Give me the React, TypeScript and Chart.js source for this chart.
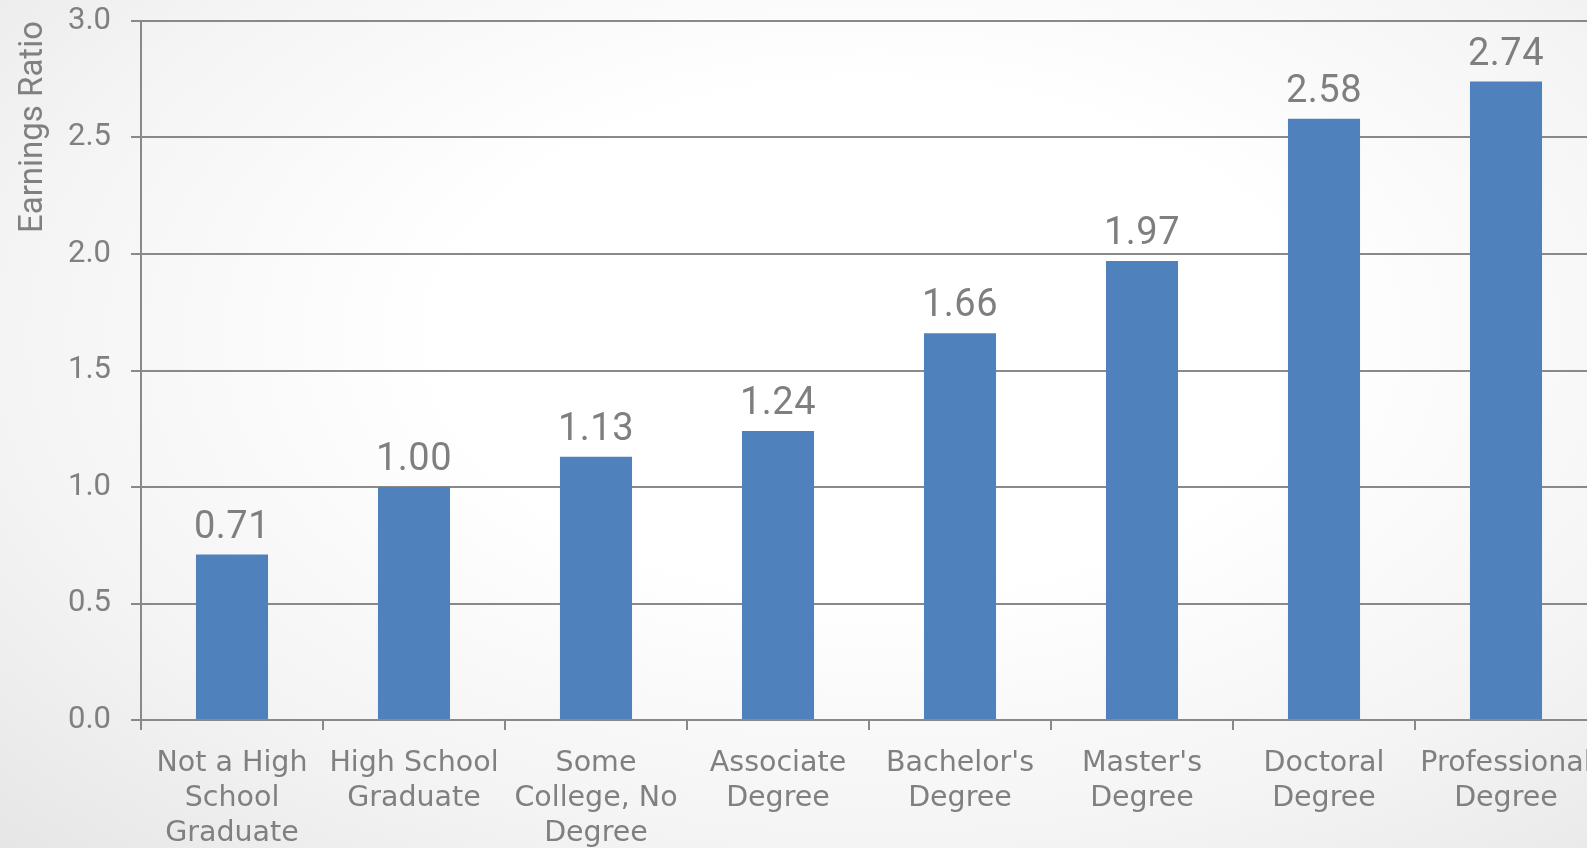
import React, { useEffect, useRef } from "react";
import { Chart, registerables } from "chart.js";

Chart.register(...registerables);

const categories: (string | string[])[] = [
  ["Not a High", "School", "Graduate"],
  ["High School", "Graduate"],
  ["Some", "College, No", "Degree"],
  ["Associate", "Degree"],
  ["Bachelor's", "Degree"],
  ["Master's", "Degree"],
  ["Doctoral", "Degree"],
  ["Professional", "Degree"],
];
const earningsRatio: number[] = [0.71, 1.0, 1.13, 1.24, 1.66, 1.97, 2.58, 2.74];
const yTicks: number[] = [0, 0.5, 1.0, 1.5, 2.0, 2.5, 3.0];
const yTitle = "Earnings Ratio";

const CANVAS_W = 1620;
const CANVAS_H = 848;
const GRAY = "#808080";
const LINE = "#898989";

const valueLabels = {
  id: "valueLabels",
  afterDatasetsDraw(chart: any) {
    const ctx = chart.ctx;
    const meta = chart.getDatasetMeta(0);
    ctx.save();
    ctx.font = "38px Roboto";
    try {
      (ctx as any).letterSpacing = "0.5px";
    } catch (e) {}
    ctx.fillStyle = "#7f7f7f";
    ctx.textAlign = "center";
    ctx.textBaseline = "alphabetic";
    meta.data.forEach((bar: any, i: number) => {
      const v = chart.data.datasets[0].data[i] as number;
      ctx.fillText(v.toFixed(2), bar.x, bar.y - 17);
    });
    ctx.restore();
  },
};

export default function App() {
  const ref = useRef<HTMLCanvasElement | null>(null);
  useEffect(() => {
    if (!ref.current) return;
    const chart = new Chart(ref.current, {
      type: "bar",
      data: {
        labels: categories,
        datasets: [
          {
            data: earningsRatio,
            backgroundColor: "#4F81BD",
            borderWidth: 0,
            barPercentage: 0.396,
            categoryPercentage: 1,
          },
        ],
      },
      options: {
        responsive: false,
        animation: false,
        devicePixelRatio: 1,
        layout: { padding: { top: 21, right: CANVAS_W - 1597, left: 0, bottom: 0 } },
        plugins: {
          legend: { display: false },
          tooltip: { enabled: false },
        },
        scales: {
          x: {
            grid: {
              display: true,
              drawOnChartArea: false,
              drawTicks: true,
              tickLength: 10,
              color: LINE,
              lineWidth: 2,
              offset: true,
            },
            border: { display: true, color: LINE, width: 2 },
            ticks: {
              color: GRAY,
              font: { family: "DejaVu Sans", size: 28.5, lineHeight: 1.23 },
              padding: 16,
              maxRotation: 0,
              minRotation: 0,
              autoSkip: false,
            },
            afterFit: (scale: any) => {
              scale.height = CANVAS_H - 720;
            },
          },
          y: {
            min: 0,
            max: 3,
            afterBuildTicks: (scale: any) => {
              scale.ticks = yTicks.map((v) => ({ value: v }));
            },
            grid: {
              color: LINE,
              lineWidth: 2,
              tickLength: 10,
              drawTicks: true,
            },
            border: { display: true, color: LINE, width: 2 },
            ticks: {
              color: GRAY,
              font: { family: "Roboto", size: 31 },
              padding: 20,
              callback: (v: any) => Number(v).toFixed(1),
            },
            title: {
              display: true,
              text: yTitle,
              align: "end",
              color: GRAY,
              font: { family: "Roboto", size: 33 },
              padding: { top: 14, bottom: 0 },
            },
            afterFit: (scale: any) => {
              scale.width = 141;
              scale.paddingTop = 0;
              scale.paddingBottom = 0;
            },
          },
        },
      },
      plugins: [valueLabels],
    });
    return () => chart.destroy();
  }, []);

  return (
    <div
      style={{
        position: "fixed",
        left: 0,
        top: 0,
        width: 1587,
        height: 848,
        overflow: "hidden",
        background:
          "radial-gradient(ellipse at 55% 40%, #ffffff 35%, #f4f4f4 70%, #e6e6e6 100%)",
      }}
    >
      <canvas
        ref={ref}
        width={CANVAS_W}
        height={CANVAS_H}
        style={{ display: "block", width: CANVAS_W, height: CANVAS_H }}
      />
    </div>
  );
}
